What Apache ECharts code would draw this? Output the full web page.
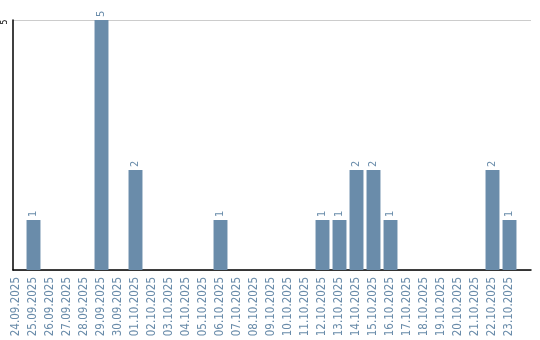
<!DOCTYPE html>
<html><head><meta charset="utf-8">
<script src="https://cdn.jsdelivr.net/npm/echarts@6/dist/echarts.min.js"></script>
<style>html,body{margin:0;padding:0;background:#fff}#c{width:540px;height:340px}</style>
</head><body><div id="c"></div>
<script>
const categories = ['24.09.2025','25.09.2025','26.09.2025','27.09.2025','28.09.2025','29.09.2025','30.09.2025','01.10.2025','02.10.2025','03.10.2025','04.10.2025','05.10.2025','06.10.2025','07.10.2025','08.10.2025','09.10.2025','10.10.2025','11.10.2025','12.10.2025','13.10.2025','14.10.2025','15.10.2025','16.10.2025','17.10.2025','18.10.2025','19.10.2025','20.10.2025','21.10.2025','22.10.2025','23.10.2025'];
const counts = [0,1,0,0,0,5,0,2,0,0,0,0,1,0,0,0,0,0,1,1,2,2,1,0,0,0,0,0,2,1];
const yTicks = [5];

const font = '"DejaVu Sans Condensed", "DejaVu Sans"';
const blue = '#6a8caa';
const chart = echarts.init(document.getElementById('c'));
chart.setOption({
  animation: false,
  grid: [
    {left: 10, right: 9, top: 20, bottom: 70},
    {left: 8, width: 510, top: 20, bottom: 70}
  ],
  xAxis: [
    {gridIndex: 0, type: 'category', data: [''], axisLine: {lineStyle: {color: '#000', width: 1.5}}, axisTick: {show: false}, axisLabel: {show: false}},
    {gridIndex: 1, type: 'category', data: categories, axisLine: {show: false}, axisTick: {show: false},
     axisLabel: {rotate: 90, interval: 0, margin: 7, color: blue, fontFamily: font, fontSize: 11.5}}
  ],
  yAxis: [
    {gridIndex: 0, type: 'value', min: 0, max: 5, interval: 5,
     axisLine: {show: true, lineStyle: {color: '#000', width: 1.5}}, axisTick: {show: false},
     splitLine: {lineStyle: {color: '#ccc'}},
     axisLabel: {rotate: 90, margin: 4, color: '#000', fontFamily: font, fontSize: 8.5,
       align: 'center', verticalAlign: 'bottom', alignMaxLabel: 'center', verticalAlignMaxLabel: 'bottom',
       padding: [0, 4, 0, 0],
       formatter: v => yTicks.includes(v) ? String(v) : ''}},
    {gridIndex: 1, type: 'value', min: 0, max: 5, show: false}
  ],
  series: [{
    type: 'bar', xAxisIndex: 1, yAxisIndex: 1, data: counts.map(v => v === 0 ? null : v),
    barCategoryGap: '18%',
    itemStyle: {color: blue},
    label: {show: true, position: 'top', rotate: 90, align: 'left', verticalAlign: 'middle', distance: 3,
      color: blue, fontFamily: font, fontSize: 11}
  }]
});
</script></body></html>
